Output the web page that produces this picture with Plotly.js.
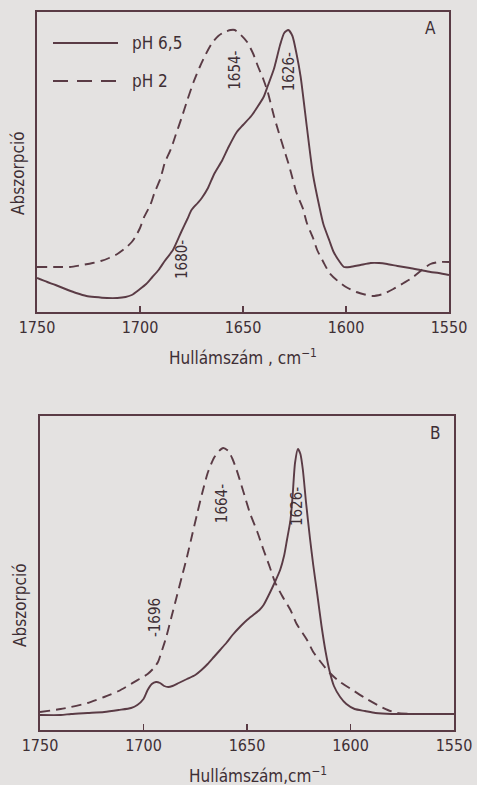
<!DOCTYPE html>
<html>
<head>
<meta charset="utf-8">
<script src="https://cdn.plot.ly/plotly-3.0.1.min.js"></script>
<style>html,body{margin:0;padding:0;background:#e4e2e1;}#chart{width:477px;height:785px;}</style>
</head>
<body>
<div id="chart"></div>
<script>
// ---- Panel A data (wavenumber, cm-1 ; absorbance, arbitrary units) ----
const wnA_ph65 = [1750,1745,1741,1735,1731,1726,1722,1716,1711,1707,1704,1700,1697,1694,1691,1688,1684,1680,1677,1675,1672,1670,1667,1664,1660,1657,1653,1650,1646,1643,1640,1638,1635,1632,1630,1628,1626,1624,1622,1619,1616,1613,1611,1608,1606,1603,1601,1598,1593,1588,1584,1580,1575,1569,1564,1559,1555,1550];
const absA_ph65 = [34,30,27,22,19,16,15,14,14,15,17,23,28,35,42,51,62,80,93,102,109,114,124,138,152,165,180,187,196,205,215,226,243,267,279,282,276,258,235,185,137,106,88,71,60,50,45,45,47,49,49,48,46,44,42,40,39,37];
const wnA_ph2 = [1750,1740,1734,1728,1723,1719,1715,1711,1707,1704,1702,1700,1698,1695,1693,1690,1688,1685,1683,1680,1677,1674,1671,1668,1665,1662,1659,1656,1654,1651,1648,1645,1643,1640,1638,1635,1633,1630,1628,1626,1624,1621,1619,1616,1614,1611,1608,1604,1600,1595,1590,1587,1582,1577,1572,1568,1565,1562,1559,1555,1550];
const absA_ph2 = [45,45,45,47,49,51,54,58,64,70,76,84,95,107,119,134,149,163,175,193,212,230,245,258,269,276,280,282,282,277,270,258,247,232,220,196,182,162,149,134,119,104,89,74,62,50,39,31,25,20,17,16,18,23,29,34,39,44,48,50,50];

// ---- Panel B data ----
const wnB_ph65 = [1750,1740,1735,1727,1719,1712,1706,1703,1700,1698,1696,1694,1692,1690,1688,1686,1683,1679,1675,1672,1669,1666,1663,1660,1657,1653,1650,1647,1644,1642,1639,1636.5,1634,1632,1630.7,1629,1628,1626.8,1625.4,1624.2,1623,1621.5,1619.6,1618,1616,1614,1612,1610,1608,1605,1602,1598,1593,1588,1580,1570,1560,1550];
const absB_ph65 = [15,15,16,17,18,20,22,25,31,40,46,48,47,44,43,44,47,51,55,60,66,73,80,87,95,104,110,115,120,125,137,148,160,175,190,210,233,267,281,276,260,228,192,165,135,104,78,58,44,33,26,21,19,17,16,16,16,16];
const wnB_ph2 = [1750,1740,1735,1727,1719,1712,1706,1702,1698,1695,1693,1691,1689,1686.5,1684,1681.5,1679,1676.5,1674,1671.5,1669,1666,1663.5,1661.5,1659,1657,1655,1652,1648.6,1645,1642,1639,1636.5,1633,1629,1626,1621,1618,1614,1610,1605,1599,1593,1587,1582,1577.5,1570,1560,1550];
const absB_ph2 = [18,21,23,27,33,39,46,51,56,62,68,80,93,113,133,153,173,195,217,238,257,272,279,282,279,271,260,240,217,198,180,163,148,134,120,106,90,78,67,57,48,40,32,25,20,17,16,16,16];

// ---- Text ----
const seriesNames = ["pH 6,5", "pH 2"];
const tickValsX = [1750, 1700, 1650, 1600, 1550];
const tickTextX = ["1750", "1700", "1650", "1600", "1550"];
const xTitleA = "Hullámszám , cm<sup>−1</sup>";
const xTitleB = "Hullámszám,cm<sup>−1</sup>";
const yTitle = "Abszorpció";
const peakLabelsA = [{wn:1654, v:242, t:"1654-"}, {wn:1627.5, v:240, t:"1626-"}, {wn:1679.6, v:52, t:"1680-"}];
const peakLabelsB = [{wn:1662, v:226, t:"1664-"}, {wn:1625.8, v:223, t:"1626-"}, {wn:1694.4, v:112, t:"-1696"}];

const W = 477, H = 785;
const px = v => v / W;
const py = v => 1 - v / H;
const lineCol = "#5a3b45";
const txtCol = "#3e2f35";
const FONT = "DejaVu Sans Condensed, DejaVu Sans, sans-serif";

const traces = [
  {x: wnA_ph65, y: absA_ph65, xaxis:"x", yaxis:"y", mode:"lines", line:{color:lineCol, width:1.9, shape:"spline", smoothing:0.6}, name:seriesNames[0], showlegend:false},
  {x: wnA_ph2, y: absA_ph2, xaxis:"x", yaxis:"y", mode:"lines", line:{color:lineCol, width:1.9, dash:"10px,6px", shape:"spline", smoothing:0.6}, name:seriesNames[1], showlegend:false},
  {x: wnB_ph65, y: absB_ph65, xaxis:"x2", yaxis:"y2", mode:"lines", line:{color:lineCol, width:1.9, shape:"spline", smoothing:0.6}, name:seriesNames[0], showlegend:false},
  {x: wnB_ph2, y: absB_ph2, xaxis:"x2", yaxis:"y2", mode:"lines", line:{color:lineCol, width:1.9, dash:"10px,6px", shape:"spline", smoothing:0.6}, name:seriesNames[1], showlegend:false}
];

const xCommon = {
  range:[1750,1550], showgrid:false, zeroline:false, showline:true, mirror:true,
  linecolor:lineCol, linewidth:1.6, ticks:"inside", ticklen:6, tickwidth:1.5, tickcolor:lineCol,
  tickmode:"array", tickvals:tickValsX, ticktext:tickTextX,
  tickfont:{family:FONT, size:16, color:txtCol}, fixedrange:true
};
const yCommon = {
  showgrid:false, zeroline:false, showline:true, mirror:true, linecolor:lineCol, linewidth:1.6,
  showticklabels:false, ticks:"", fixedrange:true
};

const ann = [];
function addText(x, y, text, opts) {
  ann.push(Object.assign({x:x, y:y, xref:"paper", yref:"paper", text:text, showarrow:false,
    font:{family:FONT, size:17, color:txtCol}, xanchor:"center", yanchor:"middle"}, opts||{}));
}
// axis titles
addText(px(243), py(357), xTitleA);
addText(px(258), py(775), xTitleB);
addText(px(18), py(173), yTitle, {textangle:-90});
addText(px(20), py(605), yTitle, {textangle:-90});
// panel letters
addText(px(430), py(28), "A");
addText(px(435), py(433), "B");
// legend texts
addText(px(130), py(43), seriesNames[0], {xanchor:"left"});
addText(px(130), py(81), seriesNames[1], {xanchor:"left"});
// peak labels
peakLabelsA.forEach(p => ann.push({x:p.wn, y:p.v, xref:"x", yref:"y", text:p.t, showarrow:false, textangle:-90,
  font:{family:FONT, size:15, color:txtCol}, xanchor:"center", yanchor:"middle"}));
peakLabelsB.forEach(p => ann.push({x:p.wn, y:p.v, xref:"x2", yref:"y2", text:p.t, showarrow:false, textangle:-90,
  font:{family:FONT, size:15, color:txtCol}, xanchor:"center", yanchor:"middle"}));

const shapes = [
  {type:"line", xref:"paper", yref:"paper", x0:px(53), x1:px(118), y0:py(43), y1:py(43), line:{color:lineCol, width:1.8}},
  {type:"line", xref:"paper", yref:"paper", x0:px(53), x1:px(118), y0:py(81), y1:py(81), line:{color:lineCol, width:1.8, dash:"15px,9px"}}
];

const layout = {
  width:W, height:H, margin:{l:0, r:0, t:0, b:0},
  paper_bgcolor:"#e4e2e1", plot_bgcolor:"#e4e2e1",
  showlegend:false,
  xaxis: Object.assign({}, xCommon, {domain:[px(37), px(449)], anchor:"y"}),
  yaxis: Object.assign({}, yCommon, {domain:[py(312), py(12)], range:[0,300], anchor:"x"}),
  xaxis2: Object.assign({}, xCommon, {domain:[px(40), px(454)], anchor:"y2"}),
  yaxis2: Object.assign({}, yCommon, {domain:[py(730), py(416)], range:[0,314], anchor:"x2"}),
  annotations: ann, shapes: shapes
};

Plotly.newPlot("chart", traces, layout, {staticPlot:true, displayModeBar:false});
</script>
</body>
</html>
